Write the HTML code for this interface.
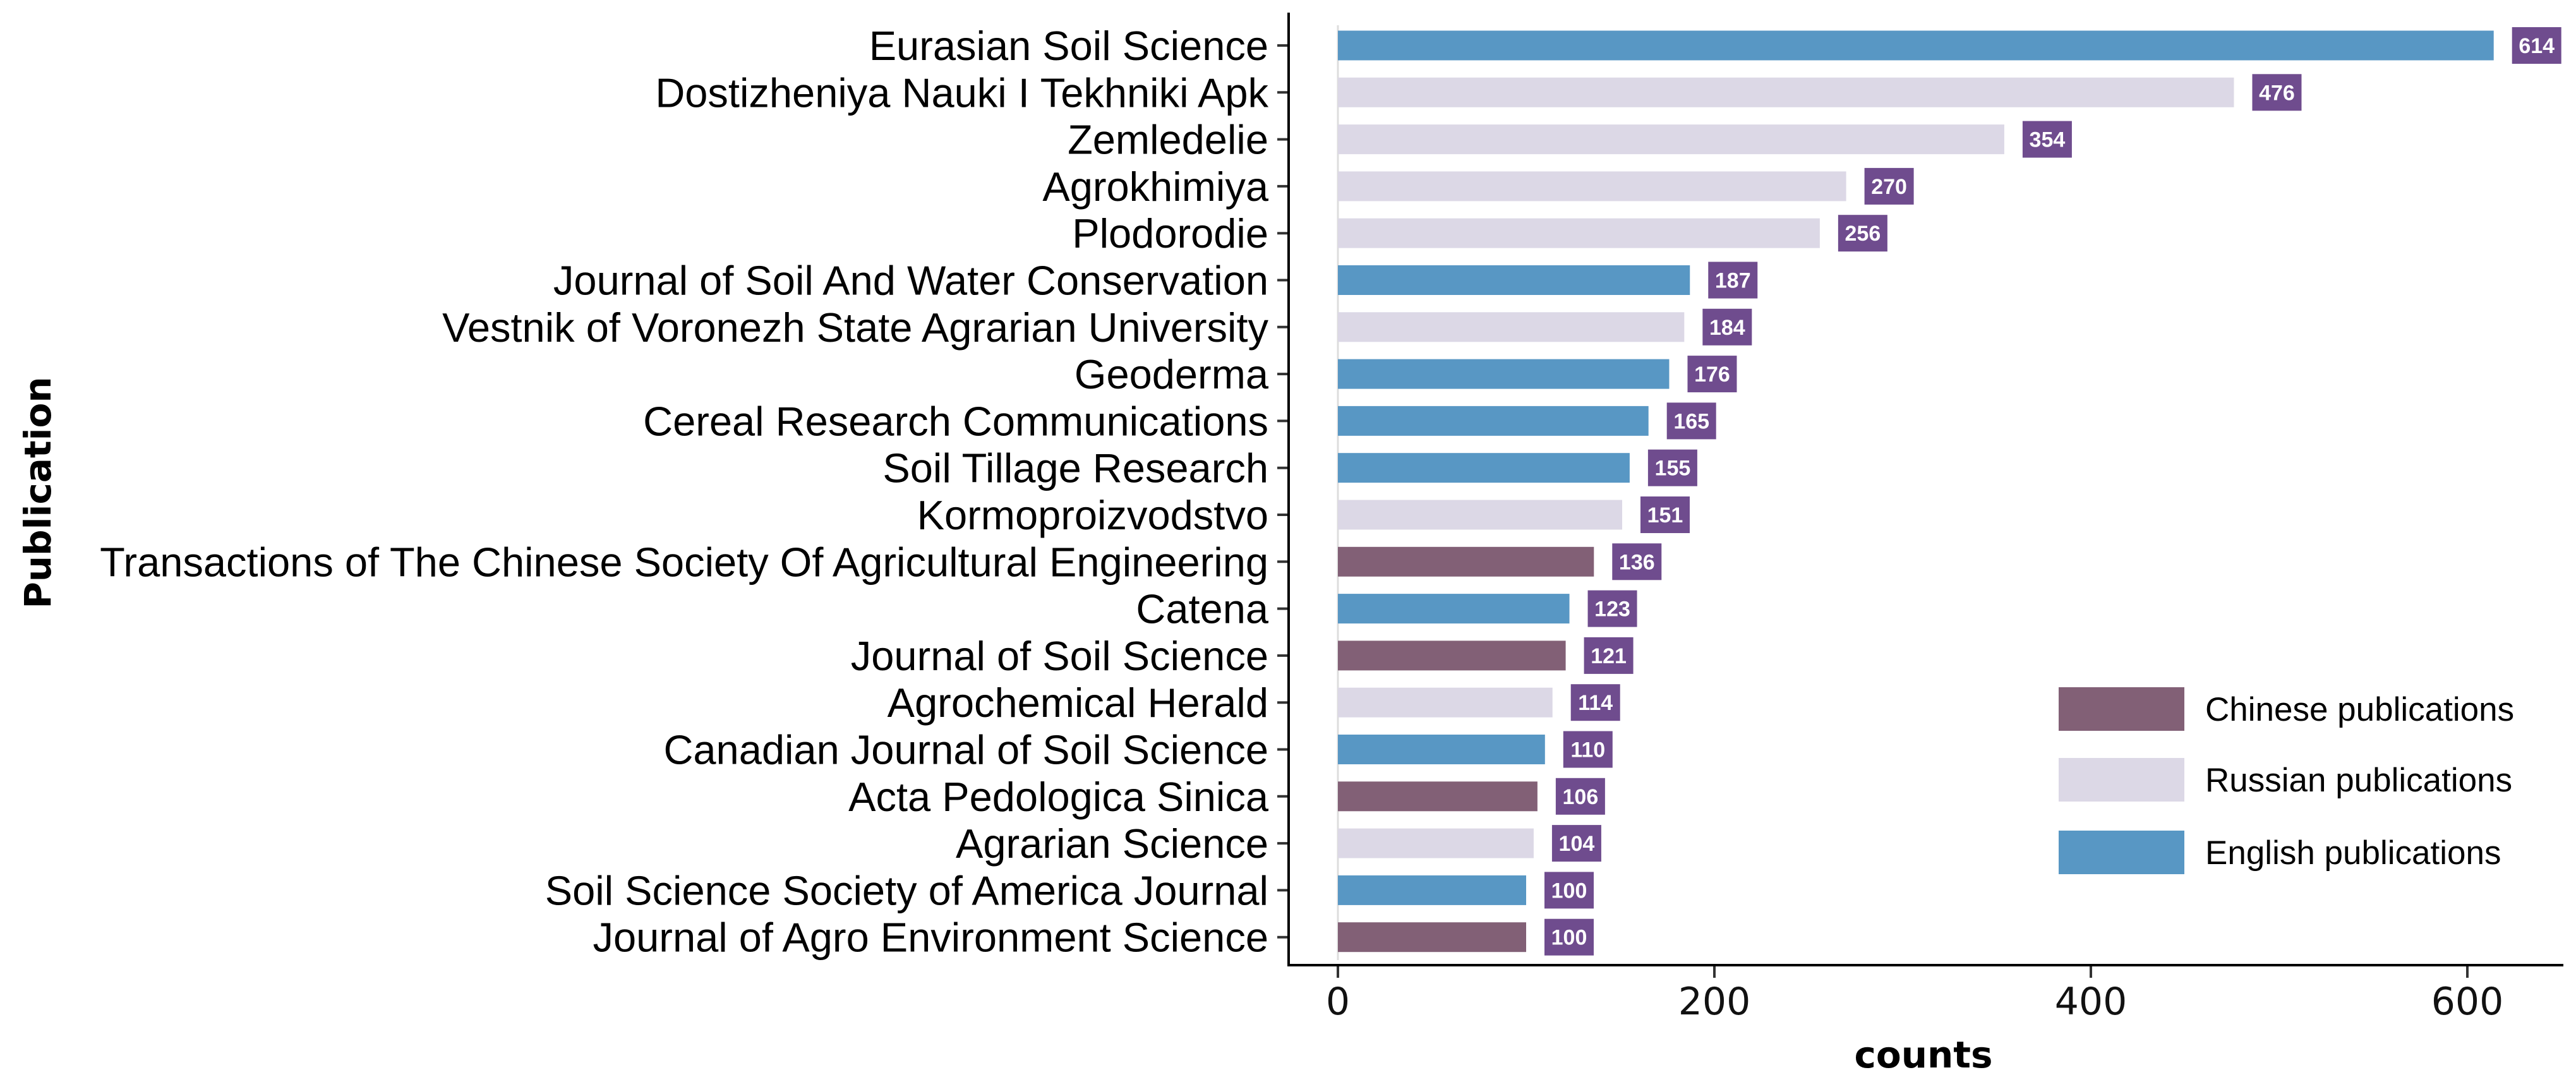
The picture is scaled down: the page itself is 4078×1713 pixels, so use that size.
<!DOCTYPE html>
<html><head><meta charset="utf-8"><style>
html,body{margin:0;padding:0;background:#fff;}
svg{display:block;font-family:"Liberation Sans",Arial,sans-serif;}
</style></head><body>
<svg id="chart" width="4078" height="1713" viewBox="0 0 4078 1713" xmlns="http://www.w3.org/2000/svg">
<rect width="4078" height="1713" fill="#fff"/>
<g id="bars"></g>
<g id="ylabels"></g>
<g id="xaxis"></g>
<line x1="2040" y1="20" x2="2040" y2="1530" stroke="#000" stroke-width="4"/>
<line x1="2038" y1="1528" x2="4058" y2="1528" stroke="#000" stroke-width="4"/>
<text transform="translate(80,780) rotate(-90)" text-anchor="middle" font-size="58" font-weight="bold" fill="#000" font-family="'DejaVu Sans',sans-serif">Publication</text>
<text x="3045" y="1690" text-anchor="middle" font-size="58" font-weight="bold" fill="#000" font-family="'DejaVu Sans',sans-serif">counts</text>
<g>
  <rect x="3259" y="1088" width="199" height="69" fill="#826076"/>
  <text x="3491" y="1141" font-size="53" fill="#000">Chinese publications</text>
  <rect x="3259" y="1200" width="199" height="69" fill="#dcd8e6"/>
  <text x="3491" y="1253" font-size="53" fill="#000">Russian publications</text>
  <rect x="3259" y="1315" width="199" height="69" fill="#5897c4"/>
  <text x="3491" y="1368" font-size="53" fill="#000">English publications</text>
</g>
</svg>
<script>
const categories = ["Eurasian Soil Science","Dostizheniya Nauki I Tekhniki Apk","Zemledelie","Agrokhimiya","Plodorodie","Journal of Soil And Water Conservation","Vestnik of Voronezh State Agrarian University","Geoderma","Cereal Research Communications","Soil Tillage Research","Kormoproizvodstvo","Transactions of The Chinese Society Of Agricultural Engineering","Catena","Journal of Soil Science","Agrochemical Herald","Canadian Journal of Soil Science","Acta Pedologica Sinica","Agrarian Science","Soil Science Society of America Journal","Journal of Agro Environment Science"];
const counts = [614,476,354,270,256,187,184,176,165,155,151,136,123,121,114,110,106,104,100,100];
const groups = ["E","R","R","R","R","E","R","E","E","E","R","C","E","C","R","E","C","R","E","C"];
const xTicks = [0,200,400,600];

const NS="http://www.w3.org/2000/svg";
const colorOf = {C:"#826076", R:"#dcd8e6", E:"#5897c4"};
const x0=2118, pxPerUnit=2.98;
function xScale(v){return x0+v*pxPerUnit;}
const yTop=72, yStep=74.3;
function yScale(i){return yTop+i*yStep;}
function mk(tag,attrs){const e=document.createElementNS(NS,tag);for(const k in attrs)e.setAttribute(k,attrs[k]);return e;}
const bars=document.getElementById('bars'), yl=document.getElementById('ylabels'), xa=document.getElementById('xaxis');
const zl=mk('line',{x1:x0,y1:40,x2:x0,y2:1520,stroke:'#dddddd','stroke-width':3});


bars.appendChild(zl);
categories.forEach((c,i)=>{
  const cy=yScale(i), h=47;
  const r=mk('rect',{x:x0,y:cy-h/2,width:xScale(counts[i])-x0,height:h,fill:colorOf[groups[i]]});
  
  
  bars.appendChild(r);
  const bx=xScale(counts[i])+29;
  const b=mk('rect',{x:bx,y:cy-29,width:78,height:58,fill:'#6f4c8e'});
  
  
  bars.appendChild(b);
  const t=mk('text',{x:bx+39,y:cy+12,'text-anchor':'middle','font-size':34,'font-weight':'bold',fill:'#fff'});
  t.textContent=counts[i];
  
  
  bars.appendChild(t);
  const l=mk('text',{x:2008,y:cy+23,'text-anchor':'end','font-size':65,fill:'#000'});
  l.textContent=c;
  
  
  yl.appendChild(l);
  const tk=mk('line',{x1:2022,y1:cy,x2:2040,y2:cy,stroke:'#333','stroke-width':4});
  
  
  yl.appendChild(tk);
});
xTicks.forEach(v=>{
  const x=xScale(v);
  const tk=mk('line',{x1:x,y1:1528,x2:x,y2:1548,stroke:'#333','stroke-width':4});
  
  
  xa.appendChild(tk);
  const t=mk('text',{x:x,y:1606,'text-anchor':'middle','font-size':60,fill:'#111','font-family':"'DejaVu Sans',sans-serif"});
  t.textContent=v;
  
  
  xa.appendChild(t);
});
</script>
</body></html>
